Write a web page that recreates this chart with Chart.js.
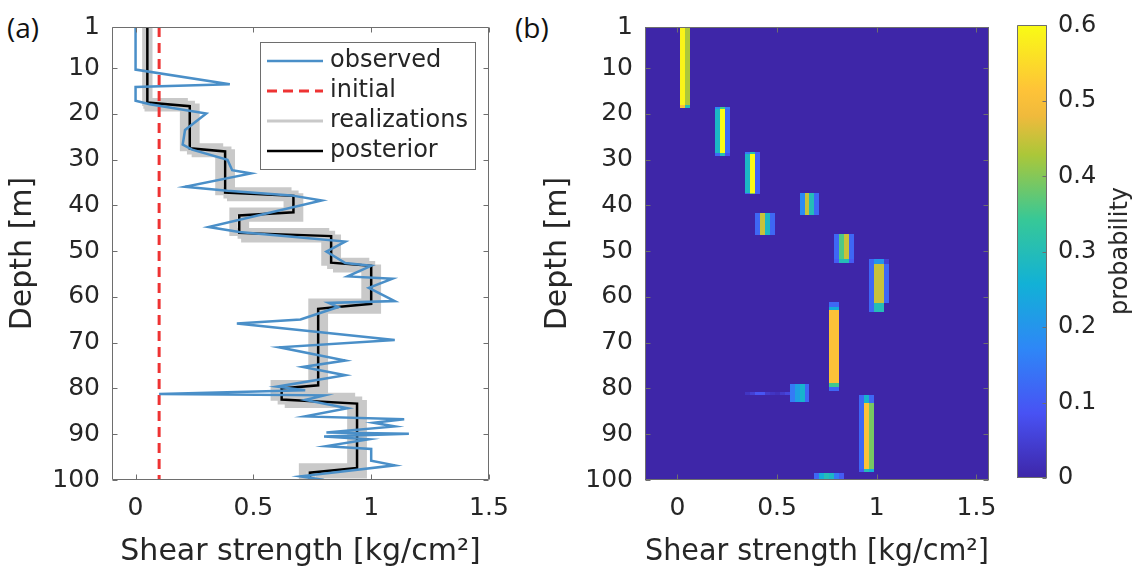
<!DOCTYPE html>
<html>
<head>
<meta charset="utf-8">
<script src="https://cdn.jsdelivr.net/npm/chart.js@4.4.1/dist/chart.umd.min.js"></script>
<style>
  body { margin: 0; background: #fff; width: 1138px; height: 571px; overflow: hidden; position: relative; font-family: 'DejaVu Sans', sans-serif; }
  canvas { position: absolute; top: 0; display: block; }
  #chartA { left: 0; }
  #chartB { left: 500px; }
  #chartC { left: 1005px; }
  .tag { position: absolute; top: 12px; font-size: 28px; line-height: 30px; color: #111; font-family: 'Open Sans', sans-serif; }
  #cbLabel { position: absolute; left: 1119px; top: 251px; transform: translate(-50%, -50%) rotate(-90deg); font-size: 24px; color: #262626; white-space: nowrap; }
</style>
</head>
<body>
<div class="tag" style="left:7px">(a)</div>
<div class="tag" style="left:515px">(b)</div>
<canvas id="chartA" width="540" height="571"></canvas>
<canvas id="chartB" width="510" height="571"></canvas>
<canvas id="chartC" width="133" height="571"></canvas>
<div id="cbLabel">probability</div>
<script>
// tick labels
const depthTicks = [1, 10, 20, 30, 40, 50, 60, 70, 80, 90, 100];
const strengthTicks = [0, 0.5, 1, 1.5];
const probTicks = [0, 0.1, 0.2, 0.3, 0.4, 0.5, 0.6];

// (a) observed shear strength profile
const obsDepth = [1, 10.3, 13.5, 14.1, 17.1, 17.9, 19.9, 23.5, 26.7, 27.8, 30.0, 32.3, 33.0, 35.9, 36.8, 37.8, 38.9, 44.7, 45.8, 47.9,
  50.1, 52.6, 53.2, 55.5, 56.0, 58.0, 60.9, 61.3, 62.2, 64.9, 65.8, 69.4, 71.0, 73.9, 75.3, 77.1, 79.6, 80.4, 81.2, 81.5,
  82.5, 84.3, 86.1, 86.7, 87.5, 88.3, 89.6, 89.9, 90.5, 91.1, 92.6, 93.2, 95.8, 96.8, 98.3, 99.2, 100];
const obsValue = [0.00, 0.00, 0.40, 0.00, 0.00, 0.06, 0.30, 0.21, 0.20, 0.24, 0.39, 0.41, 0.49, 0.21, 0.39, 0.66, 0.79, 0.31, 0.44, 0.89,
  0.81, 0.89, 1.00, 0.90, 1.09, 0.99, 1.10, 0.82, 0.86, 0.70, 0.43, 1.10, 0.61, 0.89, 0.71, 0.89, 0.60, 0.72, 0.10, 0.80,
  0.72, 0.90, 0.72, 1.14, 1.01, 1.10, 0.81, 1.16, 0.80, 0.99, 0.81, 1.00, 1.00, 1.10, 0.85, 0.70, 0.80];

// initial guess
const initialDepth = [1, 100];
const initialValue = [0.1, 0.1];

// posterior mean
const postDepth = [1, 17.5, 18.3, 27.5, 28.2, 37.2, 37.9, 41.5, 42.2, 46.0, 46.7, 52.5, 53.2, 61.5, 62.6, 79.3, 80.0, 82.4, 83.3, 97.4, 98.4, 100];
const postValue = [0.05, 0.05, 0.23, 0.23, 0.38, 0.38, 0.67, 0.67, 0.44, 0.44, 0.83, 0.83, 1.00, 1.00, 0.775, 0.775, 0.62, 0.62, 0.94, 0.94, 0.74, 0.74];

// realizations: layer tops and layer values
const real1Top = [1, 17.4, 27.3, 36.9, 41.3, 45.8, 52.3, 61.2, 79.0, 81.8, 97.2];
const real1Value = [0.045, 0.205, 0.355, 0.645, 0.415, 0.805, 0.975, 0.75, 0.59, 0.915, 0.71];
const real2Top = [1, 18.6, 28.6, 38.2, 42.7, 47.2, 53.8, 62.8, 80.6, 83.4, 98.8];
const real2Value = [0.055, 0.255, 0.405, 0.695, 0.465, 0.855, 1.025, 0.80, 0.65, 0.965, 0.78];
const real3Top = [1, 18.0, 28.0, 37.6, 42.0, 46.4, 53.0, 62.0, 79.8, 82.6, 98.0];
const real3Value = [0.05, 0.235, 0.39, 0.675, 0.45, 0.83, 1.0, 0.77, 0.62, 0.945, 0.745];

// (b) probability map: each block = depth span, first bin centre, probabilities of consecutive bins
const binWidth = 0.025;
const cellTop =      [1,    18.0, 18.4, 19.0, 28.6, 28.3, 28.8, 37.2, 37.3, 41.6, 46.3, 51.6, 51.7, 52.9, 61.3, 61.1, 62.2, 62.9, 78.8, 79.6, 79.0, 80.7, 81.4, 83.2, 97.6, 98.4];
const cellBottom =   [18.0, 18.6, 19.0, 28.6, 29.1, 28.8, 37.2, 37.5, 42.1, 46.5, 51.6, 52.6, 52.9, 61.3, 63.2, 62.2, 62.9, 78.8, 79.6, 80.5, 83.0, 81.4, 83.2, 97.6, 98.3, 100];
const cellFirstBin = [0.025, 0.025, 0.2, 0.2, 0.2, 0.35, 0.35, 0.35, 0.625, 0.4, 0.8, 0.8, 0.975, 0.975, 0.975, 0.775, 0.775, 0.775, 0.775, 0.775, 0.575, 0.35, 0.925, 0.925, 0.925, 0.7];
const cellProb = [
  [0.59, 0.43],
  [0.50, 0.30],
  [0.18, 0.35, 0.15],
  [0.28, 0.60, 0.12],
  [0.12, 0.30, 0.08],
  [0.15, 0.30, 0.10],
  [0.28, 0.60, 0.11],
  [0.12, 0.40, 0.10],
  [0.18, 0.45, 0.30, 0.12],
  [0.12, 0.45, 0.28, 0.12],
  [0.12, 0.36, 0.45, 0.12],
  [0.10, 0.30, 0.30, 0.10],
  [0.12, 0.20, 0.20, 0.05],
  [0.12, 0.45, 0.45, 0.12],
  [0.12, 0.30, 0.30, 0.00],
  [0.12, 0.12],
  [0.25, 0.25],
  [0.51, 0.51],
  [0.35, 0.35],
  [0.12, 0.12],
  [0.15, 0.22, 0.27, 0.12],
  [0.03, 0.05, 0.09, 0.09, 0.04, 0.03, 0.02, 0.04, 0.06],
  [0.12, 0.27, 0.12],
  [0.12, 0.51, 0.39],
  [0.10, 0.30, 0.25],
  [0.12, 0.25, 0.30, 0.28, 0.15, 0.10]
];

// colour map (parula-like), stops from 0 to 0.6
const parula = [[62, 38, 168], [72, 82, 244], [46, 135, 247], [18, 177, 214], [55, 200, 151], [171, 199, 57], [240, 186, 60], [254, 195, 56], [249, 251, 21]];
const parulaPos = [0, 0.143, 0.286, 0.429, 0.571, 0.714, 0.8, 0.857, 1];
const probMax = 0.6;

function colourFor(p) {
  const f = Math.max(0, Math.min(1, p / probMax));
  let i = 0;
  while (i < parulaPos.length - 2 && f > parulaPos[i + 1]) i++;
  const t = (f - parulaPos[i]) / (parulaPos[i + 1] - parulaPos[i]);
  const c = parula[i].map((v, k) => Math.round(v + (parula[i + 1][k] - v) * t));
  return `rgb(${c[0]},${c[1]},${c[2]})`;
}

const FONT = 'DejaVu Sans';
const textColor = '#262626';
const axisColor = '#6e6e6e';
const tickFont = { family: FONT, size: 25 };
const labelFont = { family: FONT, size: 30 };

const fixTicks = values => scale => { scale.ticks = values.map(v => ({ value: v })); };
const toPoints = (depths, values) => depths.map((d, i) => ({ x: values[i], y: d }));

// box with inward ticks, MATLAB style
const frame = {
  id: 'frame',
  afterDraw(chart, args, opts) {
    const { ctx, chartArea: a } = chart;
    const L = Math.round(a.left) + 0.5, R = Math.round(a.right) - 0.5;
    const T = Math.round(a.top) + 0.5, B = Math.round(a.bottom) - 0.5;
    ctx.save();
    ctx.strokeStyle = axisColor;
    ctx.lineWidth = 1;
    ctx.beginPath();
    Object.values(chart.scales).forEach(s => {
      if (!s.options.display) return;
      s.ticks.forEach(t => {
        const p = Math.round(s.getPixelForValue(t.value)) + 0.5;
        if (s.isHorizontal()) {
          ctx.moveTo(p, B); ctx.lineTo(p, B - 5);
          if (opts.mirror) { ctx.moveTo(p, T); ctx.lineTo(p, T + 5); }
        } else if (s.position === 'left') {
          ctx.moveTo(L, p); ctx.lineTo(L + 5, p);
          if (opts.mirror) { ctx.moveTo(R, p); ctx.lineTo(R - 5, p); }
        } else {
          ctx.moveTo(R, p); ctx.lineTo(R - 4, p);
        }
      });
    });
    ctx.rect(L, T, R - L, B - T);
    ctx.stroke();
    ctx.restore();
  }
};

// legend drawn inside the plot area, top right
const insideLegend = {
  id: 'insideLegend',
  afterDatasetsDraw(chart) {
    const { ctx, chartArea: a } = chart;
    const items = chart.data.datasets.filter(d => d.label);
    const left = Math.round(a.right) - 229, top = Math.round(a.top) + 15;
    ctx.save();
    ctx.fillStyle = '#fff';
    ctx.fillRect(left, top, 215, 127);
    ctx.strokeStyle = axisColor;
    ctx.lineWidth = 1;
    ctx.strokeRect(left + 0.5, top + 0.5, 215, 127);
    ctx.font = `24px ${FONT}`;
    ctx.textBaseline = 'middle';
    items.forEach((d, i) => {
      const y = top + 19 + i * 30;
      ctx.beginPath();
      ctx.strokeStyle = d.borderColor;
      ctx.lineWidth = Math.min(d.borderWidth, 3);
      ctx.setLineDash(d.borderDash || []);
      ctx.moveTo(left + 7, y);
      ctx.lineTo(left + 63, y);
      ctx.stroke();
      ctx.setLineDash([]);
      ctx.fillStyle = textColor;
      ctx.fillText(d.label, left + 70, y);
    });
    ctx.restore();
  }
};

// probability cells through the chart scales
const heatmap = {
  id: 'heatmap',
  beforeDatasetsDraw(chart) {
    const { ctx, chartArea: a, scales: { x, y } } = chart;
    ctx.save();
    ctx.beginPath();
    ctx.rect(a.left, a.top, a.width, a.height);
    ctx.clip();
    ctx.fillStyle = colourFor(0);
    ctx.fillRect(a.left, a.top, a.width, a.height);
    cellProb.forEach((probs, b) => {
      const y0 = Math.round(y.getPixelForValue(cellTop[b]));
      const y1 = Math.round(y.getPixelForValue(cellBottom[b]));
      probs.forEach((p, k) => {
        const c = cellFirstBin[b] + k * binWidth;
        const x0 = Math.round(x.getPixelForValue(c - binWidth / 2));
        const x1 = Math.round(x.getPixelForValue(c + binWidth / 2));
        ctx.fillStyle = colourFor(p);
        ctx.fillRect(x0, y0, x1 - x0, y1 - y0);
      });
    });
    ctx.restore();
  }
};

function depthAxis(width, titlePad) {
  return {
    type: 'linear', position: 'left', reverse: true, min: 1, max: 100,
    afterBuildTicks: fixTicks(depthTicks),
    afterFit: s => { s.width = width; },
    grid: { display: false, drawTicks: false }, border: { display: false },
    ticks: { font: tickFont, color: textColor, padding: 12, callback: v => String(v) },
    title: { display: true, text: 'Depth [m]', font: labelFont, color: textColor, padding: { top: titlePad, bottom: 0 } }
  };
}

function strengthAxis(min, max) {
  return {
    type: 'linear', position: 'bottom', min, max,
    afterBuildTicks: fixTicks(strengthTicks),
    afterFit: s => { s.height = 91; },
    grid: { display: false, drawTicks: false }, border: { display: false },
    ticks: { font: tickFont, color: textColor, padding: 13, callback: v => String(v) },
    title: { display: true, text: 'Shear strength [kg/cm²]', font: labelFont, color: textColor, padding: { top: 0, bottom: 1 } }
  };
}

const realizationSets = [[real1Top, real1Value], [real2Top, real2Value], [real3Top, real3Value]];
const realizationDatasets = realizationSets.map(([tops, vals], i) => ({
  label: i === 0 ? 'realizations' : '',
  data: toPoints(tops.concat([100]), vals.concat([vals[vals.length - 1]])),
  borderColor: '#c9c9c9', borderWidth: 8, stepped: 'after', borderJoinStyle: 'miter', order: 3
}));

new Chart(document.getElementById('chartA'), {
  type: 'scatter',
  data: {
    datasets: [
      { label: 'observed', data: toPoints(obsDepth, obsValue), borderColor: '#4a8fc8', borderWidth: 2.5, order: 0 },
      { label: 'initial', data: toPoints(initialDepth, initialValue), borderColor: '#ee3333', borderWidth: 3, borderDash: [10, 6], order: 1 },
      ...realizationDatasets,
      { label: 'posterior', data: toPoints(postDepth, postValue), borderColor: '#000', borderWidth: 2.5, order: 2 }
    ]
  },
  options: {
    responsive: false, animation: false, events: [],
    showLine: true,
    elements: { point: { radius: 0, hoverRadius: 0 }, line: { tension: 0 } },
    layout: { padding: { left: 0, top: 23, right: 51, bottom: 0 } },
    scales: { x: strengthAxis(-0.1, 1.5), y: depthAxis(112, 5) },
    plugins: { legend: { display: false }, tooltip: { enabled: false }, frame: { mirror: true } }
  },
  plugins: [insideLegend, frame]
});

new Chart(document.getElementById('chartB'), {
  type: 'scatter',
  data: { datasets: [] },
  options: {
    responsive: false, animation: false, events: [],
    layout: { padding: { left: 0, top: 23, right: 18, bottom: 0 } },
    scales: { x: strengthAxis(-0.1625, 1.5625), y: depthAxis(145, 40) },
    plugins: { legend: { display: false }, tooltip: { enabled: false }, frame: { mirror: true } }
  },
  plugins: [heatmap, frame]
});

new Chart(document.getElementById('chartC'), {
  type: 'bar',
  data: {
    labels: ['probability'],
    datasets: [{
      data: [[0, probMax]],
      barPercentage: 1, categoryPercentage: 1, borderWidth: 0,
      backgroundColor: c => {
        const { chart } = c;
        const y = chart.scales.y;
        if (!chart.chartArea || !y) return colourFor(0.3);
        const g = chart.ctx.createLinearGradient(0, y.getPixelForValue(0), 0, y.getPixelForValue(probMax));
        parula.forEach((col, i) => g.addColorStop(parulaPos[i], `rgb(${col[0]},${col[1]},${col[2]})`));
        return g;
      }
    }]
  },
  options: {
    responsive: false, animation: false, events: [],
    layout: { padding: { left: 12, top: 23, right: 0, bottom: 93 } },
    scales: {
      x: { display: false },
      y: {
        type: 'linear', position: 'right', min: 0, max: probMax,
        afterBuildTicks: fixTicks(probTicks),
        afterFit: s => { s.width = 91; },
        grid: { display: false, drawTicks: false }, border: { display: false },
        ticks: { font: { family: FONT, size: 24 }, color: textColor, padding: 11, callback: v => String(v) }
      }
    },
    plugins: { legend: { display: false }, tooltip: { enabled: false }, frame: { mirror: false } }
  },
  plugins: [frame]
});
</script>
</body>
</html>
